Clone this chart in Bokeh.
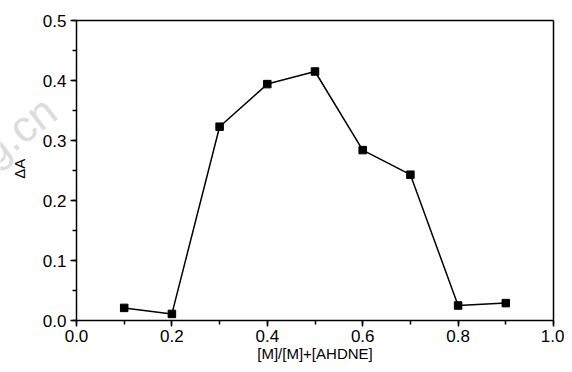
import math
from bokeh.plotting import figure
from bokeh.models import (Range1d, SingleIntervalTicker, Label, PrintfTickFormatter,
                          LinearAxis, FixedTicker)
from bokeh.embed import file_html
from bokeh.resources import INLINE

x_vals = [0.1, 0.2, 0.3, 0.4, 0.5, 0.6, 0.7, 0.8, 0.9]
dA_vals = [0.021, 0.011, 0.323, 0.394, 0.415, 0.284, 0.243, 0.025, 0.029]
x_title = "[M]/[M]+[AHDNE]"
y_title = "ΔA"

FONT = "Liberation Sans"
W, H = 564, 364
# plot box: x 0..1 spans 477 px starting 76 px from the left; y 0..0.5 spans 300 px, 20 px from top
XPX, YPX = 477.0, 600.0
p = figure(width=W, height=H, output_backend="svg", toolbar_location=None,
           x_range=Range1d(-76 / XPX, 1 + (W - 76 - 477) / XPX),
           y_range=Range1d(-(H - 320) / YPX, 0.5 + 20 / YPX),
           min_border=0, min_border_left=0, min_border_right=0,
           min_border_top=0, min_border_bottom=0)
p.grid.visible = False
p.outline_line_color = None
p.background_fill_color = "white"
p.border_fill_color = "white"

p.xaxis.ticker = SingleIntervalTicker(interval=0.2, num_minor_ticks=2)
p.yaxis.ticker = SingleIntervalTicker(interval=0.1, num_minor_ticks=2)
p.xaxis.formatter = PrintfTickFormatter(format="%.1f")
p.yaxis.formatter = PrintfTickFormatter(format="%.1f")
p.xaxis.bounds = (0, 1)
p.yaxis.bounds = (0, 0.5)
p.xaxis.fixed_location = 0
p.yaxis.fixed_location = 0
for ax in (p.xaxis, p.yaxis):
    ax.axis_line_color = "black"
    ax.axis_line_width = 1.5
    ax.major_tick_line_color = "black"
    ax.major_tick_line_width = 1.5
    ax.minor_tick_line_color = "black"
    ax.minor_tick_line_width = 1.5
    ax.major_tick_in = 0
    ax.major_tick_out = 6
    ax.minor_tick_in = 0
    ax.minor_tick_out = 4
    ax.major_label_text_font = FONT
    ax.major_label_text_font_size = "17px"
    ax.major_label_text_color = "black"
p.xaxis.major_label_standoff = 3
p.yaxis.major_label_standoff = 4

# top and right borders of the plot box
top_ax = LinearAxis(ticker=FixedTicker(ticks=[0.2, 0.4, 0.6, 0.8]), bounds=(0, 1),
                    fixed_location=0.5,
                    axis_line_color="black", axis_line_width=1.5,
                    major_tick_line_color=None, minor_tick_line_color=None,
                    major_label_text_alpha=0)
right_ax = LinearAxis(ticker=FixedTicker(ticks=[]), bounds=(0, 0.5), fixed_location=1.0,
                      axis_line_color="black", axis_line_width=1.5,
                      major_tick_line_color=None, minor_tick_line_color=None,
                      major_label_text_alpha=0)
p.add_layout(top_ax, "above")
p.add_layout(right_ax, "right")

# axis titles
p.add_layout(Label(x=0.5, y=-0.055, text=x_title, text_font=FONT, text_font_size="15px",
                   text_color="black", text_align="center", text_baseline="middle"))
p.add_layout(Label(x=-57 / XPX, y=0.253, text=y_title, text_font=FONT, text_font_size="15px",
                   text_color="black", text_align="center", text_baseline="middle",
                   angle=math.pi / 2))

# faint watermark at the left edge
p.add_layout(Label(x=-16, y=H - 155, x_units="screen", y_units="screen", text="g.cn",
                   text_font=FONT, text_font_size="44px", text_color="#dcdcdc",
                   text_baseline="alphabetic", angle=0.65))

p.line(x_vals, dA_vals, line_color="black", line_width=1.5)
p.scatter(x_vals, dA_vals, marker="square", size=7.5, fill_color="black", line_color="black")

open("out.html", "w").write(file_html(p, INLINE))
